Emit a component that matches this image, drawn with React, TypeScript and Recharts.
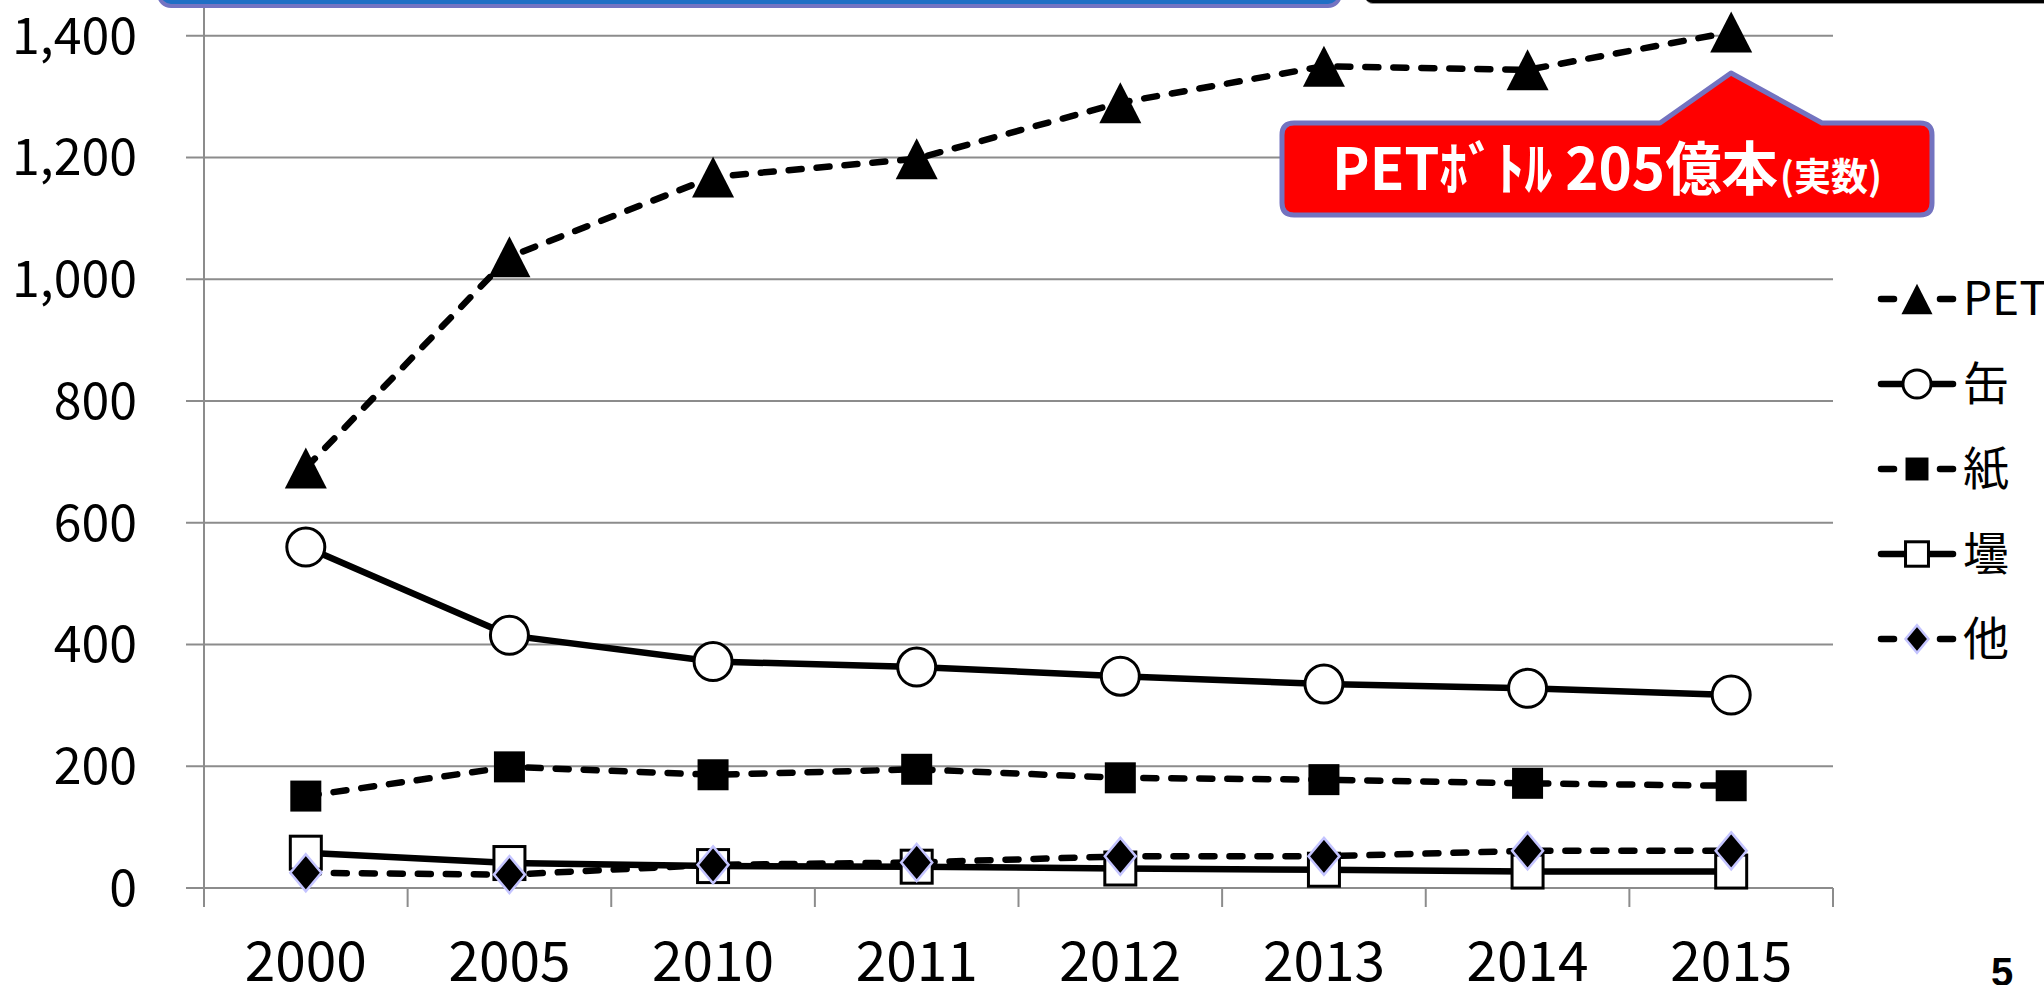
import React from 'react'
import { LineChart, Line, XAxis, YAxis, CartesianGrid } from 'recharts'

// 容器別の出荷本数 (グラフ目盛り単位)
const YEARS = ['2000', '2005', '2010', '2011', '2012', '2013', '2014', '2015']
const PET = [690, 1037, 1168, 1198, 1290, 1350, 1344, 1406]
const CAN = [560, 415, 372, 363, 348, 335, 328, 317]
const PAPER = [151, 199, 186, 195, 181, 178, 172, 168]
const GLASS = [58, 41, 36, 35, 32, 30, 27, 27]
const OTHER = [25, 22, 38, 42, 52, 52, 61, 61]
const Y_TICKS = [0, 200, 400, 600, 800, 1000, 1200, 1400, 1600]

type MarkerKind = 'triangle' | 'circle' | 'square' | 'hollowSquare' | 'diamond'

const SERIES: { key: string; name: string; values: number[]; dashed: boolean; marker: MarkerKind }[] = [
  { key: 'pet', name: 'PET', values: PET, dashed: true, marker: 'triangle' },
  { key: 'can', name: '缶', values: CAN, dashed: false, marker: 'circle' },
  { key: 'paper', name: '紙', values: PAPER, dashed: true, marker: 'square' },
  { key: 'glass', name: '壜', values: GLASS, dashed: false, marker: 'hollowSquare' },
  { key: 'other', name: '他', values: OTHER, dashed: true, marker: 'diamond' },
]

const data = YEARS.map((year, i) => {
  const row: Record<string, number | string> = { idx: i, year }
  SERIES.forEach((s) => { row[s.key] = s.values[i] })
  return row
})

// 目盛り: 区切り線 (半端値) とラベル (整数値)
const X_TICKS = YEARS.flatMap((_, i) => [i - 0.5, i]).concat(YEARS.length - 0.5)

const FONT = '"Noto Sans CJK JP", "Noto Sans", sans-serif'
const GRID = '#8c8c8c'
const LINE_W = 6.5
const DASH = '13 15'
const TOP_SHIFT = 100

function Marker({ kind, cx, cy, small }: { kind: MarkerKind; cx: number; cy: number; small?: boolean }) {
  const k = small ? 0.74 : 1
  if (kind === 'triangle') {
    const w = 42 * k, h = 41 * k
    return <polygon points={`${cx},${cy - h / 2} ${cx + w / 2},${cy + h / 2} ${cx - w / 2},${cy + h / 2}`} fill="#000" />
  }
  if (kind === 'circle') {
    return <circle cx={cx} cy={cy} r={19 * k} fill="#fff" stroke="#000" strokeWidth={3} />
  }
  if (kind === 'square') {
    const s = 31 * k
    return <rect x={cx - s / 2} y={cy - s / 2} width={s} height={s} fill="#000" />
  }
  if (kind === 'hollowSquare') {
    const w = 31 * k, h = 33 * k
    return <rect x={cx - w / 2} y={cy - h / 2} width={w} height={h} fill="#fff" stroke="#000" strokeWidth={3} />
  }
  const w = 31 * k, h = 37 * k
  return (
    <polygon
      points={`${cx},${cy - h / 2} ${cx + w / 2},${cy} ${cx},${cy + h / 2} ${cx - w / 2},${cy}`}
      fill="#000"
      stroke="#c4c4ff"
      strokeWidth={2.5}
    />
  )
}

function XTick(props: any) {
  const { x, y, payload } = props
  const v = payload.value as number
  if (Number.isInteger(v)) {
    return (
      <text x={x} y={y + 93} textAnchor="middle" fontSize={55} fontFamily={FONT} fill="#000">
        {YEARS[v]}
      </text>
    )
  }
  return <line x1={x} x2={x} y1={y} y2={y + 19} stroke={GRID} strokeWidth={2} />
}

function Legend() {
  return (
    <g>
      {SERIES.map((s, i) => {
        const cy = 299 + 85 * i
        return (
          <g key={s.key}>
            {s.dashed ? (
              <>
                <line x1={1881} x2={1894} y1={cy} y2={cy} stroke="#000" strokeWidth={LINE_W} strokeLinecap="round" />
                <line x1={1940} x2={1953} y1={cy} y2={cy} stroke="#000" strokeWidth={LINE_W} strokeLinecap="round" />
              </>
            ) : (
              <line x1={1881} x2={1953} y1={cy} y2={cy} stroke="#000" strokeWidth={LINE_W} strokeLinecap="round" />
            )}
            <Marker kind={s.marker} cx={1917} cy={cy} small />
            <text x={1963} y={cy + 16} fontSize={46} fontFamily={FONT} fill="#000">
              {s.name}
            </text>
          </g>
        )
      })}
    </g>
  )
}

function Callout() {
  const x0 = 1282, y0 = 123, x1 = 1932, y1 = 215, r = 12
  const d = [
    `M ${x0 + r} ${y0}`,
    `L 1660 ${y0} L 1731 73 L 1822 ${y0}`,
    `L ${x1 - r} ${y0} Q ${x1} ${y0} ${x1} ${y0 + r}`,
    `L ${x1} ${y1 - r} Q ${x1} ${y1} ${x1 - r} ${y1}`,
    `L ${x0 + r} ${y1} Q ${x0} ${y1} ${x0} ${y1 - r}`,
    `L ${x0} ${y0 + r} Q ${x0} ${y0} ${x0 + r} ${y0} Z`,
  ].join(' ')
  return (
    <g>
      <path d={d} fill="#ff0000" stroke="#7373c0" strokeWidth={5} strokeLinejoin="round" />
      <text x={1332} y={190} fontSize={58} fontWeight={700} fontFamily={FONT} fill="#fff" textLength={446} lengthAdjust="spacingAndGlyphs">
        PETﾎﾞﾄﾙ 205億本
      </text>
      <text x={1780} y={190} fontSize={38} fontWeight={700} fontFamily={FONT} fill="#fff" textLength={102} lengthAdjust="spacingAndGlyphs">
        (実数)
      </text>
    </g>
  )
}

export default function App() {
  return (
    <div style={{ position: 'fixed', left: 0, top: 0, width: 2044, height: 985, overflow: 'hidden', background: '#fff' }}>
      <div style={{ position: 'absolute', left: 0, top: -TOP_SHIFT }}>
        <LineChart width={2044} height={1100} data={data} margin={{ top: 14, right: 211, bottom: 0, left: 0 }}>
          <CartesianGrid vertical={false} stroke={GRID} strokeWidth={2} />
          <XAxis
            dataKey="idx"
            type="number"
            domain={[-0.5, YEARS.length - 0.5]}
            ticks={X_TICKS}
            interval={0}
            height={112}
            tickSize={0}
            tickMargin={0}
            tickLine={false}
            axisLine={{ stroke: GRID, strokeWidth: 2 }}
            tick={<XTick />}
          />
          <YAxis
            type="number"
            domain={[0, 1600]}
            ticks={Y_TICKS}
            interval={0}
            width={204}
            tickSize={18}
            tickMargin={49}
            axisLine={{ stroke: GRID, strokeWidth: 2 }}
            tickLine={{ stroke: GRID, strokeWidth: 2 }}
            tickFormatter={(v: number) => v.toLocaleString('en-US')}
            tick={{ fontSize: 50, fontFamily: FONT, fill: '#000' }}
          />
          {SERIES.map((s) => (
            <Line
              key={s.key}
              dataKey={s.key}
              name={s.name}
              type="linear"
              stroke="#000"
              strokeWidth={LINE_W}
              strokeLinecap="round"
              strokeDasharray={s.dashed ? DASH : undefined}
              isAnimationActive={false}
              dot={(p: any) => <Marker key={`${s.key}-${p.index}`} kind={s.marker} cx={p.cx} cy={p.cy} />}
              activeDot={false}
            />
          ))}
        </LineChart>
      </div>

      {/* スライド上部の他の図形 (一部のみ見えている) */}
      <div style={{ position: 'absolute', left: 157, top: -40, width: 1177, height: 40, background: '#1f6fc5', border: '4px solid #7474c2', borderRadius: 14 }} />
      <div style={{ position: 'absolute', left: 1365, top: -20, width: 720, height: 23, background: '#000', borderBottom: '1px solid #999', borderRadius: 8 }} />

      <svg width={2044} height={985} style={{ position: 'absolute', left: 0, top: 0, pointerEvents: 'none' }}>
        <Callout />
        <Legend />
        <text x={2002} y={986} textAnchor="middle" fontSize={40} fontWeight={700} fontFamily='"Liberation Sans", Arial, sans-serif' fill="#000">
          5
        </text>
      </svg>
    </div>
  )
}
